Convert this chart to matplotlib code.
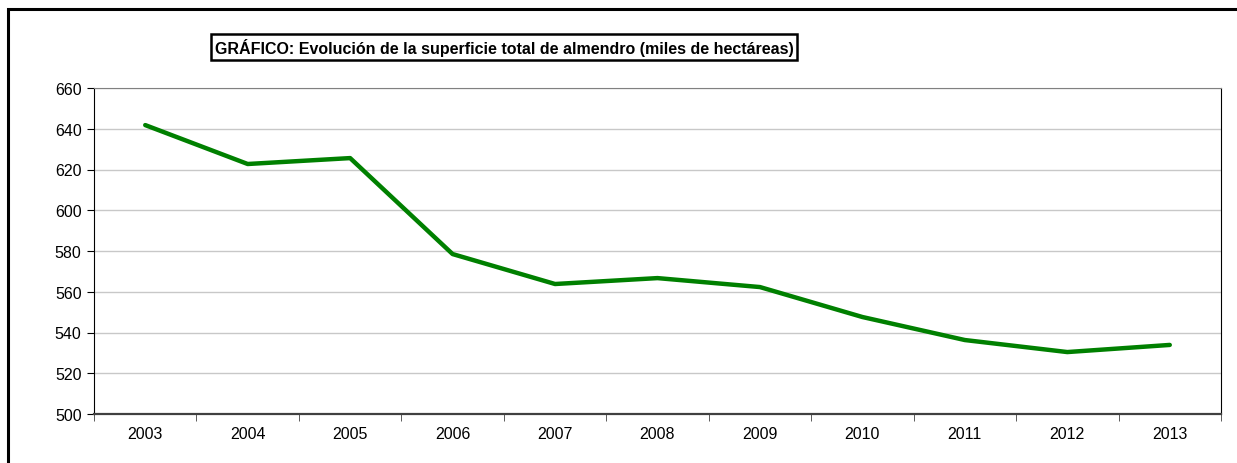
import matplotlib
matplotlib.use("Agg")
import matplotlib.pyplot as plt
from matplotlib.patches import Rectangle

years = ["2003", "2004", "2005", "2006", "2007", "2008", "2009", "2010", "2011", "2012", "2013"]
superficie = [641.8, 622.7, 625.6, 578.5, 563.8, 566.7, 562.3, 547.6, 536.3, 530.4, 533.9]
y_ticks = [500, 520, 540, 560, 580, 600, 620, 640, 660]
title = "GRÁFICO: Evolución de la superficie total de almendro (miles de hectáreas)"

plt.rcParams["font.family"] = ["Liberation Sans", "DejaVu Sans"]

fig = plt.figure(figsize=(12.37, 4.64), dpi=100)
# outer chart frame (runs off the right and bottom edges)
fig.patches.append(Rectangle((8 / 1237, -0.05), 1.1, (464 - 10) / 464 + 0.05,
                             transform=fig.transFigure, fill=False,
                             edgecolor="black", linewidth=2.2))

ax = fig.add_axes([94 / 1237, (464 - 415) / 464, (1221 - 94) / 1237, (415 - 89) / 464])
x = list(range(len(years)))
ax.plot(x, superficie, color="#008000", linewidth=3.2, solid_capstyle="round",
        solid_joinstyle="round", zorder=3)

ax.set_xlim(-0.5, len(years) - 0.5)
ax.set_ylim(500, 660)
ax.set_yticks(y_ticks)
ax.set_yticklabels([str(v) for v in y_ticks], fontsize=11.5)
ax.set_xticks(x)
ax.set_xticklabels(years, fontsize=11.5)
ax.set_xticks([i - 0.5 for i in range(len(years) + 1)], minor=True)
ax.tick_params(axis="x", which="major", length=0, pad=9)
ax.tick_params(axis="x", which="minor", length=5, direction="out", color="#404040")
ax.tick_params(axis="y", length=5, direction="out", pad=4, color="black")
ax.yaxis.grid(True, color="#c8c8c8", linewidth=1)
ax.set_axisbelow(True)

ax.spines["top"].set_color("#808080")
ax.spines["right"].set_color("black")
ax.spines["left"].set_color("black")
ax.spines["bottom"].set_color("#404040")
ax.spines["bottom"].set_linewidth(1.6)

fig.text(504 / 1237, (464 - 48) / 464, title, fontsize=11.5, fontweight="bold",
         ha="center", va="center",
         bbox=dict(boxstyle="square,pad=0.22", facecolor="white", edgecolor="black",
                   linewidth=1.8))

fig.savefig("out.png", dpi=100)
